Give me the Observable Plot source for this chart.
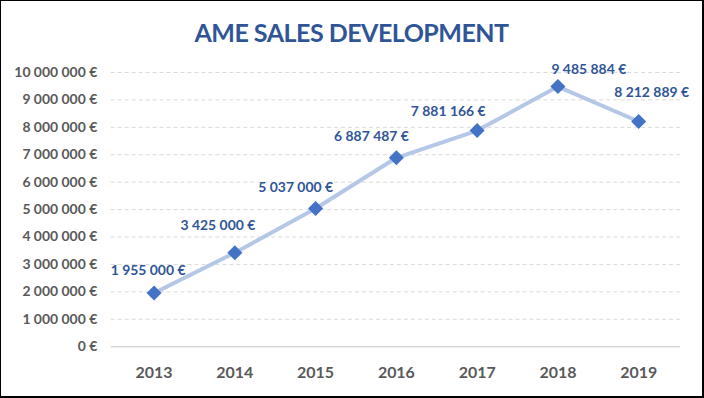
<!DOCTYPE html>
<html><head><meta charset="utf-8">
<script src="https://cdn.jsdelivr.net/npm/d3@7"></script>
<script src="https://cdn.jsdelivr.net/npm/@observablehq/plot@0.6"></script>
<style>
html,body{margin:0;padding:0;background:#fff;}
#frame{box-sizing:border-box;width:704px;height:398px;border:1px solid #000;border-right-width:2px;border-bottom-width:2px;position:relative;overflow:hidden;font-family:Lato,sans-serif;background:#fff;}
#title{position:absolute;left:0;right:0;top:13px;text-align:center;color:#2F5597;font-size:25px;font-weight:bold;letter-spacing:-0.5px;line-height:36px;font-family:Lato,sans-serif;}
#chart{position:absolute;left:-1px;top:59px;}
#chart svg text{font-weight:bold;}
</style></head><body>
<div id="frame"><div id="title"></div><div id="chart"></div></div>
<script>
const title = "AME SALES DEVELOPMENT";
const years = ["2013","2014","2015","2016","2017","2018","2019"];
const sales = [1955000, 3425000, 5037000, 6887487, 7881166, 9485884, 8212889];
const yTicks = [0,1000000,2000000,3000000,4000000,5000000,6000000,7000000,8000000,9000000,10000000];
// label nudges (style)
const labelDx = [-6,-17,-20,-25,-29,31,13];
const labelDy = [-23,-27,-21,-21,-19,-17,-29];

const fmt = v => d3.format(",")(v).replace(/,/g, " ") + " €";
const data = years.map((year, i) => ({year, sales: sales[i], i}));

document.getElementById("title").textContent = title;

const chart = Plot.plot({
  width: 704, height: 338,
  marginLeft: 111, marginRight: 22, marginTop: 12, marginBottom: 51,
  style: {fontFamily: "Lato, sans-serif", background: "transparent"},
  x: {type: "point", domain: years, padding: 0.5, label: null},
  y: {domain: [0, 10000000], label: null},
  marks: [
    Plot.ruleY(yTicks.filter(d => d > 0), {stroke: "#D9D9D9", strokeDasharray: "4,3", strokeWidth: 1}),
    Plot.ruleY([0], {stroke: "#D9D9D9", strokeWidth: 1.5}),
    Plot.axisY({ticks: yTicks, tickSize: 0, tickPadding: 14, tickFormat: fmt, fontSize: 14, color: "#595959"}),
    Plot.axisX({tickSize: 0, tickPadding: 20, fontSize: 16, color: "#595959"}),
    Plot.line(data, {x: "year", y: "sales", stroke: "#B4C7E7", strokeWidth: 4}),
    Plot.dot(data, {x: "year", y: "sales", symbol: "diamond2", r: 6.8, fill: "#4472C4", stroke: "none"}),
    ...data.map(d => Plot.text([d], {x: "year", y: "sales", text: r => fmt(r.sales), dx: labelDx[d.i], dy: labelDy[d.i], fill: "#2F5597", fontSize: 14, fontWeight: "bold"}))
  ]
});
document.getElementById("chart").appendChild(chart);
</script>
</body></html>
